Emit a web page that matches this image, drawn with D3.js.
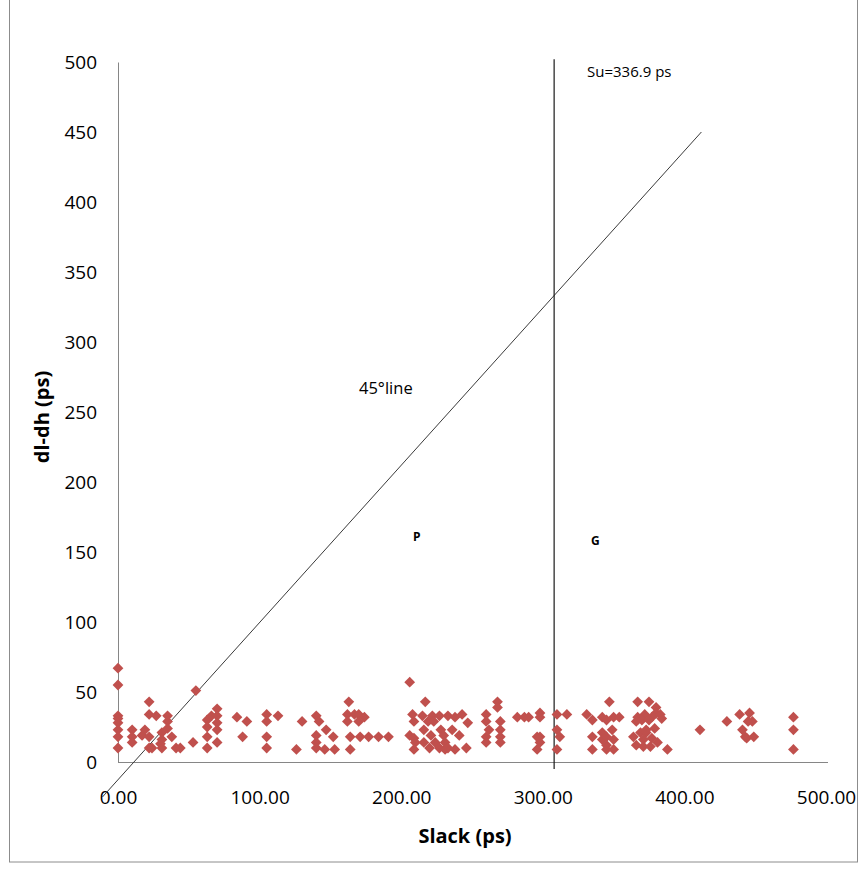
<!DOCTYPE html>
<html>
<head>
<meta charset="utf-8">
<script src="https://cdn.jsdelivr.net/npm/d3@7"></script>
<style>
  html, body { margin: 0; padding: 0; background: #fff; }
  svg { display: block; }
  text { font-family: "Open Sans", "Noto Sans", sans-serif; fill: #000; }
</style>
</head>
<body>
<script>
// ---- data ----
const xTicks = [0, 100, 200, 300, 400, 500];
const yTicks = [0, 50, 100, 150, 200, 250, 300, 350, 400, 450, 500];
const slack = [
  0,0,0,0,0,0,0,0,
  10,10,10,17,19,22,22,22,22,24,27,31,31,31,30,35,35,35,38,41,44,53,55,
  63,63,63,63,66,70,70,70,70,70,84,88,91,
  105,105,105,105,113,126,130,140,142,147,152,140,140,140,146,153,
  163,162,167,170,174,162,170,164,171,177,184,191,164,
  206,208,209,206,209,210,209,217,215,222,227,233,219,223,216,228,221,230,216,224,231,220,227,233,
  238,243,247,236,241,246,231,238,
  268,268,260,260,260,260,270,270,270,270,262,
  282,287,290,298,298,298,298,296,296,
  310,310,310,312,317,331,335,
  347,342,345,350,335,342,342,345,349,345,335,350,345,350,
  367,375,380,380,354,367,372,377,383,366,370,375,384,
  364,369,373,377,371,366,371,376,381,388,373,379,
  411,430,439,446,445,448,441,443,444,449,477,477,477
];
const dldh = [
  67,55,33,31,28,23,18,10,
  23,18,14,19,23,43,34,18,10,10,33,21,16,10,13,29,24,33,18,10,10,14,51,
  30,25,18,10,33,38,33,28,23,14,32,18,29,
  34,29,18,10,33,9,29,33,29,23,18,19,14,10,9,9,
  43,34,34,34,32,29,29,18,18,18,18,18,9,
  57,34,29,19,17,14,9,43,33,33,33,33,29,29,23,23,19,19,14,14,14,10,10,10,
  32,34,28,23,19,10,9,9,
  43,39,34,29,18,14,29,23,18,14,23,
  32,32,32,35,32,18,14,9,18,
  34,23,9,18,34,34,30,
  43,32,30,32,18,21,16,18,23,9,9,9,12,16,
  43,43,39,35,32,32,34,32,34,29,30,30,31,
  18,21,21,17,16,12,11,11,14,9,23,24,
  23,29,34,35,29,29,23,18,17,18,32,23,9
];
const suValue = 308;          // position of the Su line on the slack axis
const lineX = [-11, 412];     // "45° line" end points
const lineY = [-25, 450];

// ---- layout ----
const W = 865, H = 869;
const svg = d3.select("body").append("svg").attr("width", W).attr("height", H);

svg.append("rect").attr("x", 9.5).attr("y", -2).attr("width", 848).attr("height", 864)
  .attr("fill", "#fff").attr("stroke", "#8c8c8c").attr("stroke-width", 1);

const x = d3.scaleLinear().domain([0, 500]).range([118, 826]);
const y = d3.scaleLinear().domain([0, 500]).range([762, 62]);

// axes
const yAxis = svg.append("g").attr("transform", "translate(118,0)")
  .call(d3.axisLeft(y).tickValues(yTicks).tickSize(0).tickPadding(21).tickFormat(d3.format("d")));
yAxis.select(".domain").attr("stroke", "#868686");
yAxis.selectAll("text").attr("font-size", 19).attr("font-family", "Open Sans").attr("fill", "#000");

const xAxis = svg.append("g").attr("transform", "translate(0,762)")
  .call(d3.axisBottom(x).tickValues(xTicks).tickSize(0).tickPadding(29).tickFormat(d3.format(".2f")));
xAxis.select(".domain").attr("stroke", "#868686").attr("d", "M118,0.5H828");
xAxis.selectAll("text").attr("font-size", 19).attr("font-family", "Open Sans").attr("fill", "#000");

// 45 degree line
svg.append("line")
  .attr("x1", x(lineX[0])).attr("y1", y(lineY[0]))
  .attr("x2", x(lineX[1])).attr("y2", y(lineY[1]))
  .attr("stroke", "#3a3a3a").attr("stroke-width", 1);

// Su line
svg.append("line")
  .attr("x1", x(suValue)).attr("x2", x(suValue))
  .attr("y1", y(502)).attr("y2", y(-5))
  .attr("stroke", "#1a1a1a").attr("stroke-width", 1.2);

// points
const sym = d3.symbol().type(d3.symbolSquare).size(58);
svg.append("g").selectAll("path")
  .data(slack.map((s, i) => [s, dldh[i]]))
  .join("path")
  .attr("d", sym)
  .attr("transform", d => `translate(${x(d[0])},${y(d[1])}) rotate(45)`)
  .attr("fill", "#c0504d");

// labels
svg.append("text").attr("x", 587).attr("y", 77).attr("font-size", 15).text("Su=336.9 ps");
svg.append("text").attr("x", 359).attr("y", 394).attr("font-size", 16.5).text("45°line");
svg.append("text").attr("x", 413).attr("y", 541).attr("font-size", 12).attr("font-weight", "bold").text("P");
svg.append("text").attr("x", 591).attr("y", 545).attr("font-size", 12).attr("font-weight", "bold").text("G");

svg.append("text").attr("x", 465).attr("y", 843).attr("text-anchor", "middle")
  .attr("font-size", 20).attr("font-weight", "bold").text("Slack (ps)");
svg.append("text").attr("transform", "translate(49,417) rotate(-90)").attr("text-anchor", "middle")
  .attr("font-size", 20).attr("font-weight", "bold").text("dl-dh (ps)");
</script>
</body>
</html>
